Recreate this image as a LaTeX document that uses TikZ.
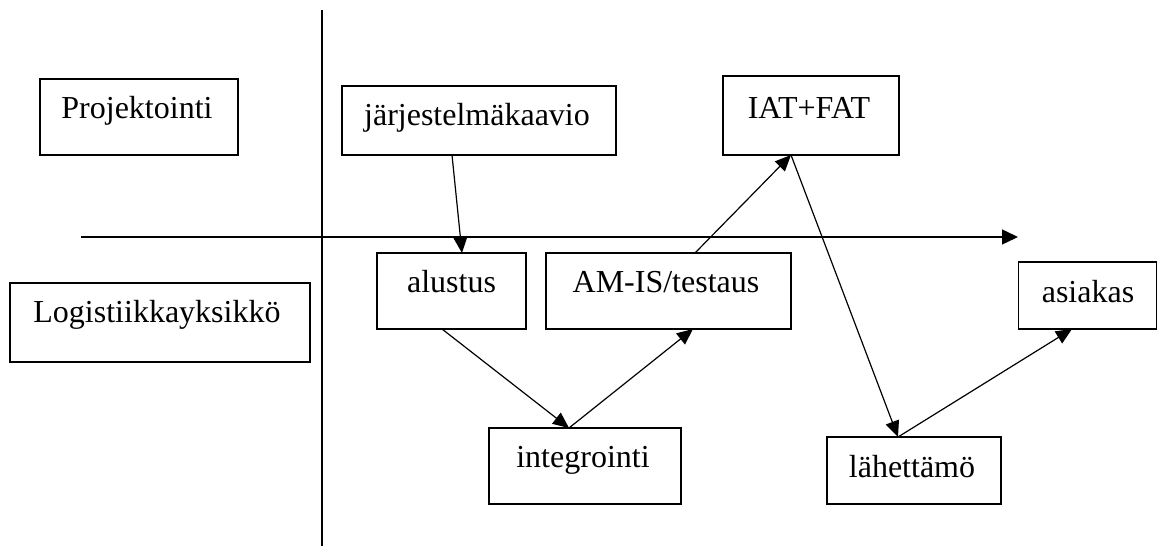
\documentclass[tikz,border=0pt]{standalone}
\usepackage{fontspec}
\setmainfont{Liberation Serif}
\usetikzlibrary{arrows.meta}
\begin{document}
\begin{tikzpicture}[x=1pt,y=-1pt,
  box/.style={draw=black, line width=1.1pt, rectangle, inner sep=0pt, outer sep=0pt},
  lbl/.style={anchor=base, inner sep=0pt, font=\fontsize{32}{38}\selectfont},
  arr/.style={line width=1.2pt, -{Triangle[length=16pt,width=14pt]}},
  axis/.style={line width=1.4pt}]
\useasboundingbox (0,0) rectangle (1160,546);
% boxes
\node[box, minimum width=198pt, minimum height=76pt] (proj) at (139,117) {};
\node[box, minimum width=300pt, minimum height=79pt] (logi) at (160,322.5) {};
\node[box, minimum width=274pt, minimum height=69pt] (jk) at (479,120.5) {};
\node[box, minimum width=176pt, minimum height=79pt] (iat) at (811,115.5) {};
\node[box, minimum width=149pt, minimum height=76pt] (al) at (451.5,291) {};
\node[box, minimum width=245pt, minimum height=76pt] (am) at (668.5,291) {};
\node[box, minimum width=138pt, minimum height=67pt] (as) at (1087.5,295.5) {};
\node[box, minimum width=192pt, minimum height=76pt] (int) at (585,466) {};
\node[box, minimum width=174pt, minimum height=67pt] (lah) at (914,470.5) {};
% labels
\node[lbl] (projt) at (137,118) {Projektointi};
\node[lbl] (logit) at (157,322) {Logistiikkayksikkö};
\node[lbl] (jkt) at (477,125) {järjestelmäkaavio};
\node[lbl] (iatt) at (809,118) {IAT+FAT};
\node[lbl] (alt) at (451.5,292) {alustus};
\node[lbl] (amt) at (666,292) {AM-IS/testaus};
\node[lbl] (ast) at (1088,302) {asiakas};
\node[lbl] (intt) at (583,467) {integrointi};
\node[lbl] (laht) at (912,477) {lähettämö};
% axes
\coordinate (vtop) at (322,10);
\coordinate (vbot) at (322,546);
\coordinate (hl) at (81,237);
\coordinate (hr) at (1018,237);
\draw[line width=2.2pt] (vtop) -- (vbot);
\draw[axis, -{Triangle[length=16pt,width=15pt]}] (hl) -- (hr);
% connectors
\draw[arr] ([xshift=-27pt]jk.south) -- ([xshift=10.5pt]al.north);
\draw[arr] ([xshift=-9.5pt]al.south) -- ([xshift=-16pt]int.north);
\draw[arr] ([xshift=-16pt]int.north) -- ([xshift=24.5pt]am.south);
\draw[arr] ([xshift=26.5pt]am.north) -- ([xshift=-20pt]iat.south);
\draw[arr] ([xshift=-20pt]iat.south) -- ([xshift=-16pt]lah.north);
\draw[arr] ([xshift=-16pt]lah.north) -- ([xshift=-15.5pt]as.south);
\end{tikzpicture}
\end{document}
